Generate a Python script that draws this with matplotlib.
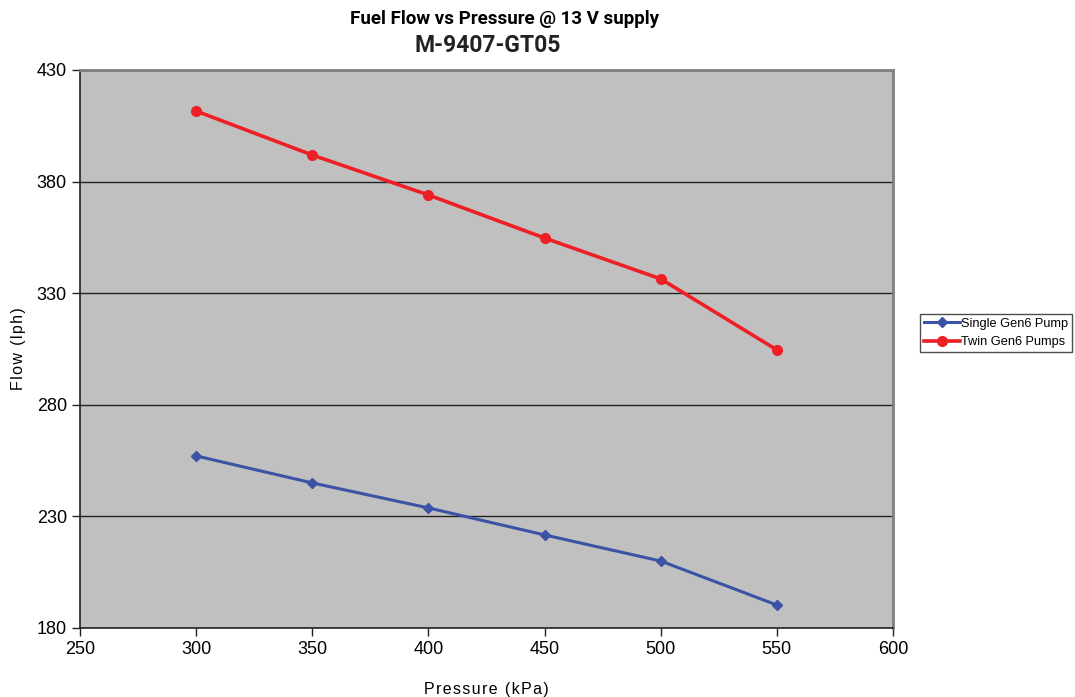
import matplotlib
matplotlib.use('Agg')
import matplotlib.pyplot as plt

# data
pressure = [300, 350, 400, 450, 500, 550]
single_flow = [257.1, 245.0, 233.8, 221.7, 210.0, 190.3]
twin_flow = [411.6, 391.9, 374.0, 354.7, 336.4, 304.6]
x_ticks = [250, 300, 350, 400, 450, 500, 550, 600]
y_ticks = [180, 230, 280, 330, 380, 430]

plt.rcParams['font.family'] = ['Liberation Sans', 'DejaVu Sans']

def spaced(s):
    # slight letter spacing like the original axis titles
    return '\u200a'.join(s)

fig = plt.figure(figsize=(10.75, 6.97), dpi=100)
ax = fig.add_axes([0.0744, 0.099, 0.7563, 0.8006])
ax.set_facecolor('#c0c0c0')

ax.plot(pressure, single_flow, color='#3a53a4', lw=2.2, marker='D', ms=5,
        label='Single Gen6 Pump', zorder=3)
ax.plot(pressure, twin_flow, color='#ee1f25', lw=2.6, marker='o', ms=7,
        label='Twin Gen6 Pumps', zorder=3)

ax.set_xlim(250, 600)
ax.set_ylim(180, 430)
ax.set_xticks(x_ticks)
ax.set_yticks(y_ticks)
ax.yaxis.grid(True, color='#222222', lw=1)
ax.set_axisbelow(True)
ax.tick_params(labelsize=13, length=6, width=1, color='#222222', direction='out')
for s in ['left', 'bottom']:
    ax.spines[s].set_color('#222222')
    ax.spines[s].set_linewidth(1.2)
for s in ['top', 'right']:
    ax.spines[s].set_color('#808080')
    ax.spines[s].set_linewidth(2)

ax.set_xlabel(spaced('Pressure (kPa)'), fontsize=11.5, labelpad=17)
ax.set_ylabel(spaced('Flow (lph)'), fontsize=11.5, labelpad=8)

fig.text(0.469, 0.973, 'Fuel Flow vs Pressure @ 13 V supply', ha='center', va='center',
         fontsize=13.5, fontweight='bold', family='Roboto', fontstretch='condensed')
fig.text(0.454, 0.935, 'M-9407-GT05', ha='center', va='center',
         fontsize=16.5, fontweight='bold', family='Roboto', color='#222222')

leg = fig.legend(loc='center left', bbox_to_anchor=(0.856, 0.522), fontsize=9.2,
                 frameon=True, fancybox=False, edgecolor='#222222', borderpad=0.3,
                 handlelength=2.8, handletextpad=0.1, labelspacing=0.5,
                 borderaxespad=0)
leg.get_frame().set_linewidth(1)

fig.savefig('out.png', dpi=100)
